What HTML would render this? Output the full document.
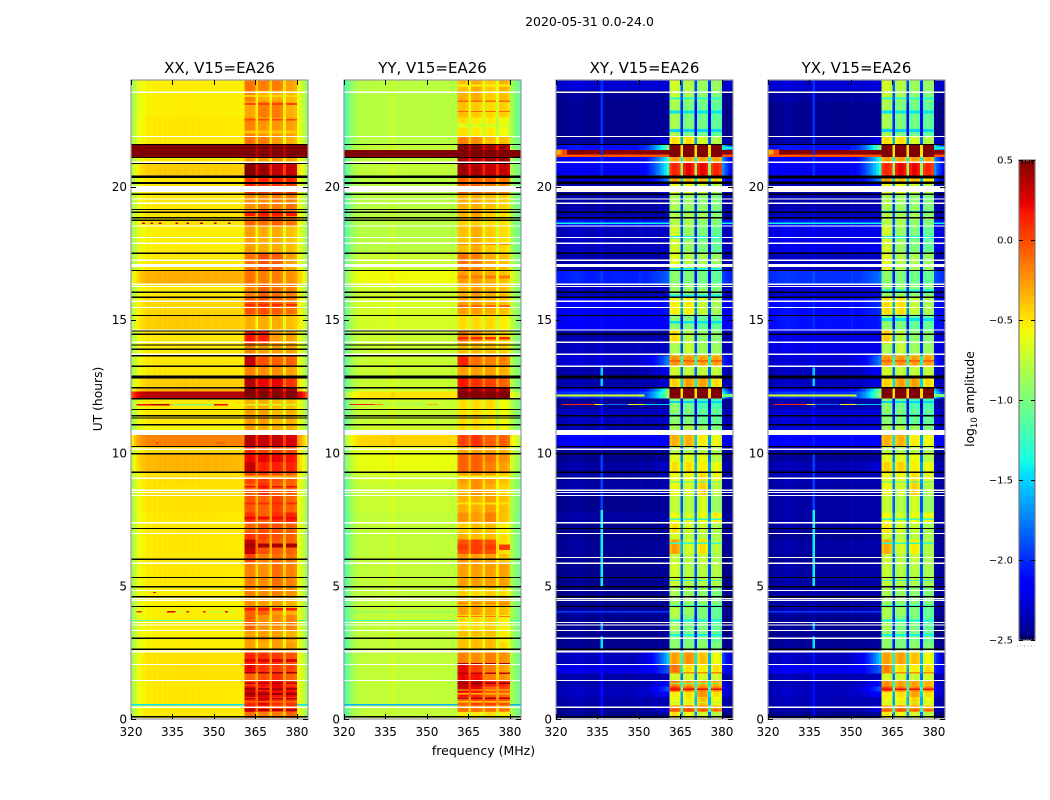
<!DOCTYPE html>
<html lang="en">
<head>
<meta charset="utf-8">
<title>2020-05-31 amplitude waterfall</title>
<style>
html,body{margin:0;padding:0;background:#fff}
svg{display:block}
text{font-family:"DejaVu Sans","Liberation Sans",sans-serif;fill:#000}
</style>
</head>
<body>
<svg id="chart" width="1050" height="800" viewBox="0 0 1050 800" xmlns="http://www.w3.org/2000/svg">
<rect x="0" y="0" width="1050" height="800" fill="#fff"/>
<text x="589.5" y="26" font-size="12.5" text-anchor="middle">2020-05-31 0.0-24.0</text>
<text x="102" y="399" font-size="12.3" text-anchor="middle" transform="rotate(-90 102 399)">UT (hours)</text>
<text x="483.5" y="755" font-size="12.5" text-anchor="middle">frequency (MHz)</text>
<text x="974" y="399" font-size="12.3" text-anchor="middle" transform="rotate(-90 974 399)">log<tspan font-size="8.5" dy="3">10</tspan><tspan dy="-3"> amplitude</tspan></text>
<g id="panels"></g>
<g id="colorbar"></g>
</svg>
<script>
// ---- Data ----
const freqTicks = [320, 335, 350, 365, 380];
const utTicks = [0, 5, 10, 15, 20];
const colorTicks = [0.5, 0, -0.5, -1, -1.5, -2, -2.5];
const colorTickLabels = ['0.5', '0.0', '\u22120.5', '\u22121.0', '\u22121.5', '\u22122.0', '\u22122.5'];
const panelTitles = ['XX, V15=EA26', 'YY, V15=EA26', 'XY, V15=EA26', 'YX, V15=EA26'];

// UT band edges (hours), one more than the per-band arrays below
const utEdges = [0,.26,.5,.83,1.03,1.22,1.45,1.7,2.05,2.55,2.9,3.35,3.9,4.25,4.6,5,5.9,6.2,6.75,7,7.35,7.75,8.4,8.85,9.27,9.65,9.95,10.25,10.7,11.05,11.65,12.03,12.3,12.45,12.85,13.25,13.65,14.1,14.6,15.2,15.85,16.3,16.85,17.5,18.5,18.75,19.15,19.4,19.75,20.1,20.4,20.9,21.1,21.2,21.38,21.55,21.9,22.6,23.2,23.6,24];

// log10 amplitude below the spectral windows, per UT band
const xxLow = [-.53,-.53,-.53,-.53,-.53,-.53,-.51,-.51,-.51,-.55,-.55,-.55,-.55,-.55,-.55,-.53,-.53,-.53,-.53,-.53,-.53,-.51,-.51,-.5,-.37,-.37,-.48,-.2,-.58,-.53,-.53,.35,-.35,-.44,-.53,-.53,-.53,-.53,-.44,-.47,-.53,-.35,-.53,-.55,-.51,-.51,-.53,-.53,-.53,-.53,-.44,-.53,1,1,1,-.53,-.53,-.55,-.55,-.55];
const yyLow = [-.75,-.75,-.75,-.75,-.75,-.75,-.75,-.75,-.75,-.75,-.75,-.75,-.75,-.75,-.75,-.75,-.75,-.75,-.75,-.75,-.75,-.72,-.72,-.7,-.6,-.6,-.62,-.45,-.7,-.72,-.72,-.5,-.72,-.72,-.72,-.72,-.72,-.72,-.68,-.68,-.7,-.58,-.72,-.78,-.78,-.78,-.78,-.78,-.78,-.78,-.75,-.75,1,1,-.75,-.78,-.78,-.78,-.78,-.78];
const xyLow = [-2.47,-2.45,-2.4,-2.35,-2.35,-2.4,-2.4,-2.25,-2.35,-2.47,-2.47,-2.47,-2.45,-2.47,-2.47,-2.47,-2.47,-2.45,-2.47,-2.47,-2.42,-2.47,-2.42,-2.42,-2.42,-2.47,-2.42,-2.2,-2.4,-2.35,-2.45,-2,-2.2,-2.4,-2.4,-2.3,-2.35,-2.4,-2.2,-2.2,-2.35,-2.05,-2.4,-2.35,-2.1,-2.4,-2.42,-2.42,-2.42,-2.3,-2.2,-2.2,0,.45,-2.1,-2.45,-2.47,-2.47,-2.45,-2.3];
const yxLow = [-2.47,-2.42,-2.38,-2.35,-2.35,-2.38,-2.38,-2.22,-2.35,-2.45,-2.47,-2.47,-2.42,-2.42,-2.42,-2.42,-2.47,-2.42,-2.47,-2.42,-2.42,-2.42,-2.42,-2.38,-2.38,-2.45,-2.38,-2.15,-2.3,-2.3,-2.4,-2,-2.2,-2.35,-2.35,-2.3,-2.25,-2.25,-2.1,-2.12,-2.3,-2.0,-2.35,-2.25,-2.1,-2.35,-2.4,-2.4,-2.4,-2.25,-2.2,-2.2,0,.45,-2.1,-2.42,-2.47,-2.47,-2.42,-2.3];

// Rise of the cross-hand floor toward the windows, per UT band
const xyRamp = [0,.2,0,.2,.5,.3,0,.4,.9,0,0,0,0,0,0,0,0,0,0,0,0,0,0,0,.1,0,0,0,0,0,0,1.2,1.3,.1,.2,.6,0,0,0,.1,0,.2,0,0,0,0,0,0,.2,.6,1,1,0,0,1.2,.2,0,0,0,0];
const yxRamp = [0,.2,0,.2,.5,.3,0,.4,.9,0,0,0,0,0,0,0,0,0,0,0,0,0,0,0,.1,0,0,0,0,0,0,1.2,1.3,.1,.2,.6,0,0,0,.1,0,.2,0,0,0,0,0,0,.2,.6,1,1,0,0,1.2,.2,0,0,0,0];

// log10 amplitude in the four spectral windows, per UT band
const xxHigh = [[-.15,-.2,-.2,-.1],[.2,.05,0,.05],[.1,.2,.05,.05],[.3,.25,.15,.2],[.25,.1,.2,.15],[.05,.15,.2,.05],[-.1,-.05,.05,-.1],[.2,.05,.02,0],[.1,.05,.02,-.05],[-.3,-.35,-.3,-.3],[-.3,-.3,-.3,-.35],[-.1,-.25,-.25,-.2],[-.1,-.1,-.3,-.35],[-.25,-.3,-.3,-.35],[-.2,-.25,-.2,-.25],[-.2,-.25,-.15,-.2],[0,-.2,-.15,-.15],[.3,-.05,-.1,-.1],[.05,0,-.05,-.1],[-.1,-.05,-.05,-.1],[.05,-.1,.05,.1],[-.05,-.1,0,-.1],[-.1,.05,-.1,-.1],[0,0,-.05,-.1],[.3,.1,.1,.1],[.2,.2,.2,.15],[.1,0,0,0],[.35,.3,.3,.25],[-.3,-.35,-.35,-.35],[-.3,-.3,-.4,-.35],[-.35,-.35,-.4,-.4],[.5,.5,.5,.5],[.5,.4,.4,.4],[.35,.2,.2,.05],[-.2,-.25,-.25,-.3],[.3,-.05,-.1,-.1],[-.2,-.3,-.3,-.3],[.15,.1,-.3,-.3],[-.35,-.35,-.35,-.4],[-.05,-.05,-.1,-.15],[-.2,-.1,-.15,-.2],[-.15,-.2,-.2,-.25],[-.15,-.05,-.1,-.3],[-.3,-.35,-.35,-.4],[-.1,-.15,-.1,-.15],[-.2,.05,0,-.2],[-.25,-.2,-.2,-.15],[-.25,-.25,-.2,-.2],[.1,.05,.05,.05],[.05,.1,.1,.1],[.5,.4,.3,.3],[-.3,-.3,-.25,-.3],[.6,.6,.6,.6],[.6,.6,.6,.6],[.6,.6,.6,.6],[-.15,-.2,-.3,-.35],[-.2,-.28,-.28,-.3],[-.32,-.2,-.2,-.35],[-.2,-.35,-.35,-.38],[-.15,-.2,-.2,-.3]];
const yyHigh = [[-.55,-.55,-.5,-.55],[-.2,-.2,-.2,-.25],[-.1,0,0,-.05],[.15,.1,-.1,-.1],[.3,.2,-.1,0],[.3,.3,.1,.1],[.2,.15,-.2,-.25],[.2,0,-.2,-.3],[-.2,-.25,-.2,-.25],[-.4,-.4,-.4,-.5],[-.4,-.4,-.4,-.55],[-.5,-.5,-.45,-.55],[-.3,-.3,-.35,-.4],[-.35,-.35,-.35,-.3],[-.45,-.5,-.45,-.5],[-.3,-.3,-.3,-.3],[-.25,-.3,-.3,-.4],[-.05,0,-.05,-.5],[-.35,-.4,-.4,-.5],[-.45,-.4,-.4,-.55],[-.25,-.3,-.2,-.4],[-.35,-.35,-.3,-.4],[-.35,-.25,-.35,-.45],[-.3,-.25,-.3,-.4],[-.1,-.1,-.2,-.3],[-.1,-.1,-.15,-.25],[-.3,-.3,-.3,-.35],[0,.05,-.1,-.1],[-.5,-.5,-.55,-.6],[-.5,-.5,-.55,-.6],[-.5,-.5,-.5,-.6],[.6,.6,.6,.6],[.4,.4,.4,.4],[.15,.05,0,-.1],[-.3,-.3,-.3,-.35],[.1,-.15,-.2,-.2],[-.4,-.4,-.4,-.45],[-.15,-.25,-.4,-.45],[-.5,-.5,-.5,-.55],[-.3,-.3,-.35,-.4],[-.35,-.3,-.35,-.4],[-.3,-.3,-.35,-.4],[-.15,-.2,-.35,-.4],[-.4,-.35,-.45,-.5],[-.45,-.45,-.5,-.5],[-.35,-.3,-.45,-.5],[-.35,-.35,-.4,-.45],[-.35,-.35,-.4,-.45],[-.1,-.1,-.15,-.2],[-.1,-.1,-.1,-.15],[.4,.35,.3,.3],[.35,.35,.4,.4],[.6,.6,.6,.6],[.6,.6,.6,.6],[.5,.5,.4,.4],[-.2,-.25,-.4,-.4],[-.5,-.55,-.55,-.6],[-.4,-.45,-.5,-.45],[-.35,-.35,-.45,-.4],[-.4,-.35,-.45,-.35]];
const xyHigh = [[-.5,-.6,-.7,-.8],[-.15,-.1,-.2,-.3],[-.6,-.55,-.4,-.6],[-.55,-.5,-.25,-.5],[.05,-.1,-.2,-.2],[-.2,-.3,-.3,-.35],[-.7,-.7,-.7,-.7],[-.15,-.5,-.55,-.5],[-.3,-.25,-.4,-.6],[-.95,-1,-.95,-1],[-.95,-1,-1,-1.1],[-.85,-1,-1,-1.1],[-.8,-.9,-1,-1.1],[-.9,-.95,-.95,-1],[-.85,-.9,-.95,-1],[-.7,-.8,-.8,-.8],[-.75,-.8,-.75,-.85],[-.3,-.7,-.5,-.8],[-.7,-.8,-.8,-.85],[-.5,-.7,-.75,-.85],[-.6,-.7,-.6,-.55],[-.75,-.8,-.7,-.9],[-.6,-.7,-.45,-.8],[-.6,-.6,-.5,-.6],[-.5,-.5,-.55,-.6],[-.65,-.65,-.6,-.8],[-.8,-.85,-.8,-.85],[-.35,-.35,-.55,-.6],[-.85,-.8,-.9,-1],[-.95,-1,-1.1,-1.1],[-.95,-1.05,-1.2,-1.2],[.6,.6,.6,.6],[.6,.6,.6,.6],[-.45,-.3,-.3,-.5],[-.7,-.75,-.75,-.75],[-.25,-.25,-.3,-.3],[-.85,-.75,-.9,-.9],[-.5,-.8,-.95,-.95],[-.95,-1,-1.1,-1.1],[-.55,-.55,-.75,-.85],[-.9,-.9,-.95,-1],[-.95,-1,-1.05,-1.1],[-.65,-.8,-.85,-.9],[-.7,-.9,-1,-1.1],[-.8,-.85,-.95,-1],[-.8,-.85,-.85,-.95],[-.85,-.9,-.95,-1],[-.85,-.9,-.95,-1],[-.6,-.6,-.7,-.8],[-.3,-.4,-.4,-.5],[.1,.2,.2,.1],[-.3,-.3,-.3,-.3],[.6,.6,.6,.6],[.6,.6,.6,.6],[.6,.6,.6,.6],[-.5,-.5,-.7,-.8],[-.85,-1,-1.05,-1.1],[-.85,-1,-1.05,-1.1],[-.75,-.85,-.95,-1],[-.7,-.8,-.9,-.9]];
const yxHigh = [[-.55,-.6,-.7,-.8],[-.2,-.15,-.25,-.3],[-.6,-.55,-.45,-.6],[-.55,-.5,-.3,-.5],[0,-.15,-.2,-.2],[-.25,-.3,-.3,-.35],[-.7,-.7,-.75,-.7],[-.2,-.5,-.55,-.5],[-.3,-.3,-.4,-.6],[-.95,-1,-.95,-1],[-.95,-1,-1,-1.1],[-.85,-1,-1,-1.1],[-.85,-.9,-1,-1.1],[-.9,-.95,-1,-1],[-.85,-.9,-.95,-1],[-.75,-.8,-.8,-.85],[-.75,-.8,-.75,-.85],[-.35,-.7,-.55,-.8],[-.7,-.8,-.8,-.85],[-.55,-.7,-.75,-.85],[-.6,-.7,-.6,-.6],[-.75,-.8,-.7,-.9],[-.6,-.7,-.45,-.8],[-.6,-.6,-.5,-.65],[-.45,-.45,-.55,-.6],[-.65,-.65,-.6,-.8],[-.8,-.85,-.8,-.85],[-.35,-.35,-.55,-.6],[-.85,-.8,-.9,-1],[-.95,-1,-1.1,-1.1],[-.95,-1.05,-1.2,-1.2],[.6,.6,.6,.6],[.6,.6,.6,.6],[-.45,-.3,-.3,-.5],[-.7,-.75,-.75,-.75],[-.25,-.25,-.3,-.3],[-.85,-.75,-.9,-.9],[-.45,-.8,-.95,-.95],[-.95,-1,-1.1,-1.1],[-.5,-.5,-.75,-.85],[-.9,-.9,-.95,-1],[-.95,-1,-1.05,-1.1],[-.65,-.8,-.85,-.9],[-.7,-.9,-1,-1.1],[-.8,-.85,-.95,-1],[-.8,-.85,-.85,-.95],[-.85,-.9,-.95,-1],[-.85,-.9,-.95,-1],[-.6,-.6,-.7,-.8],[-.3,-.4,-.4,-.5],[.1,.2,.2,.1],[-.3,-.3,-.3,-.3],[.6,.6,.6,.6],[.6,.6,.6,.6],[.6,.6,.6,.6],[-.5,-.5,-.7,-.8],[-.85,-1,-1.05,-1.1],[-.85,-1,-1.05,-1.1],[-.75,-.85,-.95,-1],[-.7,-.8,-.9,-.9]];

// Fine rows inside the four windows only: [UT, log10 amplitude, thickness hours]
const xxWindowRows = [[.34,.35,.07],[.65,-.1,.05],[.76,.35,.06],[.94,.42,.07],[1.12,.38,.07],[1.34,.35,.06],[1.74,.42,.05],[2.2,.25,.1],[3.02,-.1,.06],[4.12,.15,.08],[6.52,.4,.15],[7.55,.2,.1],[8.1,.1,.08],[8.72,.2,.06],[9.1,-.3,.1],[15.55,.1,.08],[18.95,.15,.12],[22.5,.02,.06],[23.1,.02,.06],[23.4,-.45,.06],[22.05,-.4,.1]];
const yyWindowRows = [[.34,-.1,.06],[.65,-.45,.05],[.78,.35,.05],[.95,-.35,.05],[1.09,-.4,.05],[1.34,.45,.06],[1.72,.35,.05],[2.09,.4,.04],[3.05,-.55,.08],[3.85,-.15,.04],[4.35,-.2,.05],[6.45,.05,.2],[8.1,-.5,.08],[9.1,-.55,.1],[14.3,.1,.1],[15.5,-.1,.08],[16.6,-.15,.1],[17.85,-.2,.1],[22.82,-.1,.05],[23.2,-.1,.05],[22.3,-.65,.15],[23.8,-.55,.08]];
const xyWindowRows = [[.34,.05,.05],[.62,-.8,.05],[1.12,.2,.06],[1.34,-1,.04],[1.74,-.2,.05],[3.15,-1.4,.07],[3.7,-1.4,.06],[4.25,-1.3,.05],[5.2,-1.3,.05],[6.6,-1.3,.04],[7.5,-1.3,.05],[8.9,-1.3,.05],[11.4,-1.5,.08],[11.9,-1.5,.08],[14.9,-1.45,.1],[15.9,-1.4,.08],[16.9,-1.4,.06],[18.1,-1.4,.1],[19.05,-1.35,.08],[22.1,-1.5,.12],[22.8,-1.45,.1],[23.3,-1.35,.08],[13.45,-.1,.08]];
const yxWindowRows = [[.34,.05,.05],[.62,-.8,.05],[1.12,.2,.06],[1.74,-.2,.05],[3.15,-1.4,.07],[3.7,-1.4,.06],[4.25,-1.3,.05],[5.2,-1.3,.05],[6.6,-1.3,.04],[7.5,-1.3,.05],[8.9,-1.3,.05],[11.4,-1.5,.08],[11.9,-1.5,.08],[15,-1.45,.12],[16.1,-1.4,.08],[18.1,-1.4,.1],[19.05,-1.35,.08],[22.1,-1.5,.12],[22.8,-1.45,.1],[23.3,-1.35,.08],[13.45,-.1,.08]];

// Channel offsets (320..383 MHz, 1 MHz channels)
const xxProfile = [-.32,-.2,-.1,-.05,-.02,0,.02,0,.02,.01,.03,.01,.03,.02,.03,.02,.03,.03,.02,.03,.03,.02,.03,.02,.03,.02,.02,.03,.02,.02,.03,.02,.02,.03,.02,.02,.02,.02,.02,.01,0,0,.03,.03,0,0,.02,.04,.04,0,0,.03,.04,.03,0,0,.03,.03,.02,-.02,-.05,-.12,-.22,-.36];
const yyProfile = [-.42,-.27,-.16,-.09,-.05,-.02,0,-.02,0,-.01,.01,0,.01,0,.01,0,.01,.06,.01,0,.01,0,.01,0,.01,0,0,.01,0,0,.01,0,0,.01,0,0,0,0,0,-.01,-.03,0,.03,.03,0,0,.02,.04,.04,0,0,.03,.04,.03,0,0,.03,.03,.02,-.04,-.07,-.14,-.22,-.32];
const xyProfile = [0,0,0,.01,.02,.03,.04,.05,.04,.03,.02,.01,0,0,.01,.02,.1,.01,0,0,.01,.01,.02,.02,.01,0,0,0,0,.01,.06,.01,0,.01,.02,.02,.02,.03,.03,.03,.05,-.05,.03,.03,-.05,0,-.05,.03,.03,-.05,0,-.05,.03,.03,-.05,0,-.05,.03,.03,-.05,0,0,0,0];
const yxProfile = [0,0,0,.02,.03,.03,.04,.05,.04,.03,.02,.02,.01,.01,.02,.02,.1,.02,.01,.01,.02,.02,.02,.02,.01,.01,.01,.01,.01,.01,.06,.01,.01,.01,.02,.02,.02,.03,.03,.03,.05,-.05,.03,.03,-.05,0,-.05,.03,.03,-.05,0,-.05,.03,.03,-.05,0,-.05,.03,.03,-.05,0,0,0,0];

// Value drop in the 1 MHz gaps between windows
const gapOffsets = [-.25, -.2, -1.1, -1.1];

// Short events: [UT, first MHz, end MHz, log10 amplitude, thickness hours]
const xxStreaks = [[.54,320,361,-1.45,.06],[.54,380,384,-1.45,.06],[3.7,320,361,-1.1,.05],[3.7,380,384,-1.1,.05],[4.03,322,324,.1,.05],[4.03,333,336,.25,.05],[4.03,336,340,-.7,.05],[4.03,340,341,.2,.05],[4.03,346,347,.2,.05],[4.03,348,358,-.75,.05],[4.03,354,355,.2,.05],[4.75,328,329,.2,.04],[11.81,322,327,.2,.06],[11.81,327,334,.4,.06],[11.81,334,335,-.3,.06],[11.81,335,350,-.95,.06],[11.81,350,355,.2,.06],[11.81,355,361,-.55,.06],[11.81,361,381,-.7,.06],[18.62,324,325,.3,.04],[18.62,327,328,.3,.04],[18.62,330,331,.3,.04],[18.62,336,337,.35,.04],[18.62,340,341,.35,.04],[18.62,345,346,.35,.04],[18.62,350,351,.35,.04],[18.62,355,356,.35,.04],[10.37,329,330,.15,.04],[10.37,351,354,0,.04]];
const yyStreaks = [[.54,320,361,-1.6,.06],[.54,380,384,-1.6,.06],[3.7,320,361,-1.25,.05],[3.7,380,384,-1.25,.05],[4.03,320,361,-1,.03],[11.81,322,331,.15,.05],[11.81,331,334,-.2,.05],[11.81,334,350,-.9,.05],[11.81,350,354,-.3,.05]];
const xyStreaks = [[4.03,320,361,-1.95,.05],[11.81,322,334,.1,.05],[11.81,334,337,-.6,.05],[11.81,337,346,-1.8,.05],[11.81,346,352,-.55,.05],[11.81,352,361,-1.5,.05],[12.15,320,352,-.65,.08],[12.15,380,384,-1,.1],[18.62,320,361,-1.4,.05],[18.62,380,384,-1.4,.05],[21.3,320,322,-.3,.18],[21.3,322,324,0,.18],[21.15,320,361,-.05,.06],[21.15,380,384,-.05,.08],[21.45,380,384,-1.4,.12]];
const yxStreaks = [[4.03,320,361,-1.95,.05],[11.81,322,334,.1,.05],[11.81,334,337,-.6,.05],[11.81,337,346,-1.8,.05],[11.81,346,352,-.55,.05],[11.81,352,361,-1.5,.05],[12.15,320,352,-.65,.08],[12.15,380,384,-1,.1],[18.62,320,361,-1.4,.05],[18.62,380,384,-1.4,.05],[21.3,320,322,-.3,.18],[21.3,322,324,0,.18],[21.15,320,361,-.05,.06],[21.15,380,384,-.05,.08],[21.45,380,384,-1.4,.12]];

// Weak interference on channel 336 in the cross hands: [start UT, end UT, log10 amplitude]
const rfiSegments = [[0,2.5,-2.1],[2.65,3.1,-1.45],[3.3,3.6,-1.6],[5,7.85,-1.4],[7.85,10,-1.95],[10.9,12,-2.1],[12.5,13.2,-1.5],[20.4,24,-2]];
const rfiChannelMHz = 336;

// Flagged integrations (UT hours)
const whiteLines = [.44,1.45,2.05,3.33,3.53,3.62,4.46,4.53,4.83,5.85,6.97,7.37,8.4,8.51,8.59,9.04,10.13,13.7,14.15,14.61,15.46,15.69,16.24,16.33,17.23,17.87,18.09,18.52,19.37,19.53,20.91,21.88,23.54];
const whiteBands = [[0,.04],[2.5,2.58],[10.67,10.85],[13.22,13.27],[16.97,17.09],[19.79,20.02]];
const crossWhiteLines = [3.03,6.07,13.25];
const parallelBlackLines = [2.62,3.03,4.23,4.59,5.32,6,7.16,9.27,10.24,11.05,11.3,11.39,11.63,12.03,12.44,13.64,13.89,14.05,14.45,14.58,15.16,15.84,16.03,16.85,17.49,18.73,19.03,19.14,19.71,20.86,21.09,21.58];
const parallelBlackBands = [[.05,.11],[4.93,4.99],[9.93,9.99],[12.78,12.91],[13.22,13.27],[18.79,18.85],[20.1,20.16],[20.32,20.41]];
const crossBlackLines = [2.62,4.23,4.59,5.32,7.16,9.27,9.96,10.24,11.05,11.39,12.44,14.45,15.16,15.84,16.03,16.85,17.49,19.03,19.71,21.58];
const crossBlackBands = [[.05,.11],[4.93,4.99],[12.78,12.91],[18.79,18.85],[20.1,20.18],[20.3,20.41]];

// ---- Axis functions ----
const NS = 'http://www.w3.org/2000/svg';
const panelLefts = [131, 344, 556, 768];
const panelWidth = 177, plotTop = 80, plotBottom = 719;
const freqMin = 320, freqMax = 384, utMax = 24, chanCount = 64;
const windowStarts = [361, 366, 371, 376];
const windowChannels = 4;
function xScale(p, mhz) { return panelLefts[p] + (mhz - freqMin) / (freqMax - freqMin) * panelWidth; }
function yScale(ut) { return plotBottom - ut / utMax * (plotBottom - plotTop); }
function barScale(v) { return 160 + (0.5 - v) / 3 * 480; }

function lerpStops(stops, x) {
  for (let i = 1; i < stops.length; i++) {
    if (x <= stops[i][0]) {
      const a = stops[i - 1], b = stops[i];
      return a[1] + (b[1] - a[1]) * (x - a[0]) / (b[0] - a[0]);
    }
  }
  return stops[stops.length - 1][1];
}
const jetR = [[0,0],[.35,0],[.66,1],[.89,1],[1,.5]];
const jetG = [[0,0],[.125,0],[.375,1],[.64,1],[.91,0],[1,0]];
const jetB = [[0,.5],[.11,1],[.34,1],[.65,0],[1,0]];
function jet(v) {
  const x = Math.max(0, Math.min(1, (v + 2.5) / 3));
  const c = s => Math.round(255 * lerpStops(s, x));
  return 'rgb(' + c(jetR) + ',' + c(jetG) + ',' + c(jetB) + ')';
}
function windowIndex(mhz) {
  if (mhz >= 361 && mhz <= 364) return 0;
  if (mhz >= 366 && mhz <= 369) return 1;
  if (mhz >= 371 && mhz <= 374) return 2;
  if (mhz >= 376 && mhz <= 379) return 3;
  return -1;
}
function gapIndex(mhz) { return mhz === 365 ? 0 : mhz === 370 ? 1 : mhz === 375 ? 2 : -1; }
function rampFactor(mhz) {
  if (mhz < 361 && mhz > 348) return Math.pow((mhz - 348) / 13, 2);
  if (mhz >= 380) return [.5, .3, .15, .05][mhz - 380];
  return 0;
}
function cellValue(p, b, ch, low, high, prof, ramp) {
  const mhz = freqMin + ch;
  const w = windowIndex(mhz);
  if (w >= 0) return high[b][w] + prof[ch];
  const g = gapIndex(mhz);
  if (g >= 0) return (high[b][g] + high[b][g + 1]) / 2 + gapOffsets[p];
  return low[b] + prof[ch] + (ramp ? ramp[b] * rampFactor(mhz) : 0);
}
function mk(tag, attrs, parent) {
  const el = document.createElementNS(NS, tag);
  for (const k in attrs) el.setAttribute(k, attrs[k]);
  parent.appendChild(el);
  return el;
}

const panelsRoot = document.getElementById('panels');
const panelLow = [xxLow, yyLow, xyLow, yxLow];
const panelHigh = [xxHigh, yyHigh, xyHigh, yxHigh];
const panelProfile = [xxProfile, yyProfile, xyProfile, yxProfile];
const panelRamp = [null, null, xyRamp, yxRamp];
const panelStreaks = [xxStreaks, yyStreaks, xyStreaks, yxStreaks];
const panelWindowRows = [xxWindowRows, yyWindowRows, xyWindowRows, yxWindowRows];
const panelKeys = ['xx', 'yy', 'xy', 'yx'];

function flagRect(g, p, u0, u1, color, name) {
  const y0 = yScale(u1), y1 = yScale(u0);
  const r = mk('rect', {x: xScale(p, freqMin), y: y0, width: panelWidth, height: Math.max(1, y1 - y0), fill: color, 'shape-rendering': 'crispEdges'}, g);
  
  
}

panelTitles.forEach(function (title, p) {
  const key = panelKeys[p];
  const g = mk('g', {}, panelsRoot);
  
  

  const heat = mk('g', {'shape-rendering': 'crispEdges'}, g);
  
  
  for (let b = 0; b < utEdges.length - 1; b++) {
    const yT = yScale(utEdges[b + 1]), yB = yScale(utEdges[b]);
    for (let ch = 0; ch < chanCount; ch++) {
      const x0 = xScale(p, freqMin + ch), x1 = xScale(p, freqMin + ch + 1);
      const v = cellValue(p, b, ch, panelLow[p], panelHigh[p], panelProfile[p], panelRamp[p]);
      const cell = mk('rect', {x: x0, y: yT, width: x1 - x0, height: yB - yT, fill: jet(v)}, heat);
      
      
    }
  }
  panelWindowRows[p].forEach(function (s) {
    const y0 = yScale(s[0] + s[2] / 2), y1 = yScale(s[0] - s[2] / 2);
    windowStarts.forEach(function (start) {
      const r = mk('rect', {x: xScale(p, start), y: y0, width: xScale(p, start + windowChannels) - xScale(p, start), height: Math.max(1, y1 - y0), fill: jet(s[1])}, heat);
      
      
    });
  });
  if (p >= 2) {
    rfiSegments.forEach(function (s) {
      const r = mk('rect', {x: xScale(p, rfiChannelMHz), y: yScale(s[1]), width: xScale(p, rfiChannelMHz + 1) - xScale(p, rfiChannelMHz), height: yScale(s[0]) - yScale(s[1]), fill: jet(s[2])}, heat);
      
      
    });
  }
  panelStreaks[p].forEach(function (s) {
    const y0 = yScale(s[0] + s[4] / 2), y1 = yScale(s[0] - s[4] / 2);
    const r = mk('rect', {x: xScale(p, s[1]), y: y0, width: xScale(p, s[2]) - xScale(p, s[1]), height: Math.max(1, y1 - y0), fill: jet(s[3])}, heat);
    
    
  });

  const flags = mk('g', {}, g);
  
  
  const lineHalf = 0.022;
  (p < 2 ? parallelBlackLines : crossBlackLines).forEach(function (u) { flagRect(flags, p, u - lineHalf, u + lineHalf, '#000', 'black-flag-row'); });
  (p < 2 ? parallelBlackBands : crossBlackBands).forEach(function (u) { flagRect(flags, p, u[0], u[1], '#000', 'black-flag-band'); });
  whiteLines.forEach(function (u) { flagRect(flags, p, u - lineHalf, u + lineHalf, '#fff', 'white-flag-row'); });
  whiteBands.forEach(function (u, i) {
    if (i === 3 && p < 2) return;
    flagRect(flags, p, u[0], u[1], '#fff', 'white-flag-band');
  });
  if (p >= 2) crossWhiteLines.forEach(function (u) { flagRect(flags, p, u - lineHalf, u + lineHalf, '#fff', 'white-flag-row'); });

  const frame = mk('rect', {x: xScale(p, freqMin), y: plotTop, width: panelWidth, height: plotBottom - plotTop, fill: 'none', stroke: '#9a9a9a', 'stroke-width': 1.2}, g);
  
  

  freqTicks.forEach(function (f) {
    const x = Math.round(xScale(p, f)) + .5;
    const t1 = mk('line', {x1: x, x2: x, y1: plotBottom, y2: plotBottom - 5, stroke: '#000', 'stroke-width': 1}, g);
    
    
    const t2 = mk('line', {x1: x, x2: x, y1: plotTop, y2: plotTop + 5, stroke: '#000', 'stroke-width': 1}, g);
    
    
    const lab = mk('text', {x: xScale(p, f), y: 736, 'font-size': 12, 'text-anchor': 'middle'}, g);
    lab.textContent = f;
    
    
  });
  utTicks.forEach(function (u) {
    const y = Math.round(yScale(u)) + .5;
    const x0 = xScale(p, freqMin), x1 = x0 + panelWidth;
    const t1 = mk('line', {x1: x0, x2: x0 + 5, y1: y, y2: y, stroke: '#000', 'stroke-width': 1}, g);
    
    
    const t2 = mk('line', {x1: x1, x2: x1 - 5, y1: y, y2: y, stroke: '#000', 'stroke-width': 1}, g);
    
    
    const lab = mk('text', {x: x0 - 4, y: yScale(u) + 4.5, 'font-size': 12, 'text-anchor': 'end'}, g);
    lab.textContent = u;
    
    
  });
  const tt = mk('text', {x: xScale(p, freqMin) + panelWidth / 2, y: 73, 'font-size': 15, 'text-anchor': 'middle'}, g);
  tt.textContent = title;
  
  
});

// ---- Colorbar ----
const cb = document.getElementById('colorbar');
const cbLeft = 1019, cbWidth = 16;
const cbSteps = 240;
const cbRamp = mk('g', {'shape-rendering': 'crispEdges'}, cb);


for (let i = 0; i < cbSteps; i++) {
  const vTop = 0.5 - 3 * i / cbSteps, vBot = 0.5 - 3 * (i + 1) / cbSteps;
  const r = mk('rect', {x: cbLeft, y: barScale(vTop), width: cbWidth, height: barScale(vBot) - barScale(vTop) + .5, fill: jet((vTop + vBot) / 2)}, cbRamp);
  
  
}
const cbFrame = mk('rect', {x: cbLeft, y: barScale(.5), width: cbWidth, height: barScale(-2.5) - barScale(.5), fill: 'none', stroke: '#777', 'stroke-width': 1.2}, cb);


colorTicks.forEach(function (v, i) {
  const y = Math.round(barScale(v)) + .5;
  const a = mk('line', {x1: cbLeft, x2: cbLeft + 4, y1: y, y2: y, stroke: '#000'}, cb);
  
  
  const b = mk('line', {x1: cbLeft + cbWidth, x2: cbLeft + cbWidth - 4, y1: y, y2: y, stroke: '#000'}, cb);
  
  
  const l = mk('text', {x: 1013, y: barScale(v) + 3.5, 'font-size': 10, 'text-anchor': 'end'}, cb);
  l.textContent = colorTickLabels[i];
  
  
});
[0.2, 0.4, 0.6, 0.8].forEach(function (f) {
  const x = Math.round(cbLeft + f * cbWidth) + .5;
  const a = mk('line', {x1: x, x2: x, y1: 160, y2: 164, stroke: '#000'}, cb);
  
  
  const b = mk('line', {x1: x, x2: x, y1: 640, y2: 636, stroke: '#000'}, cb);
  
  
});
const dots = mk('line', {x1: 1017, x2: 1035, y1: 646, y2: 646, stroke: '#999', 'stroke-width': 1, 'stroke-dasharray': '1 2.5'}, cb);


</script>
</body>
</html>
